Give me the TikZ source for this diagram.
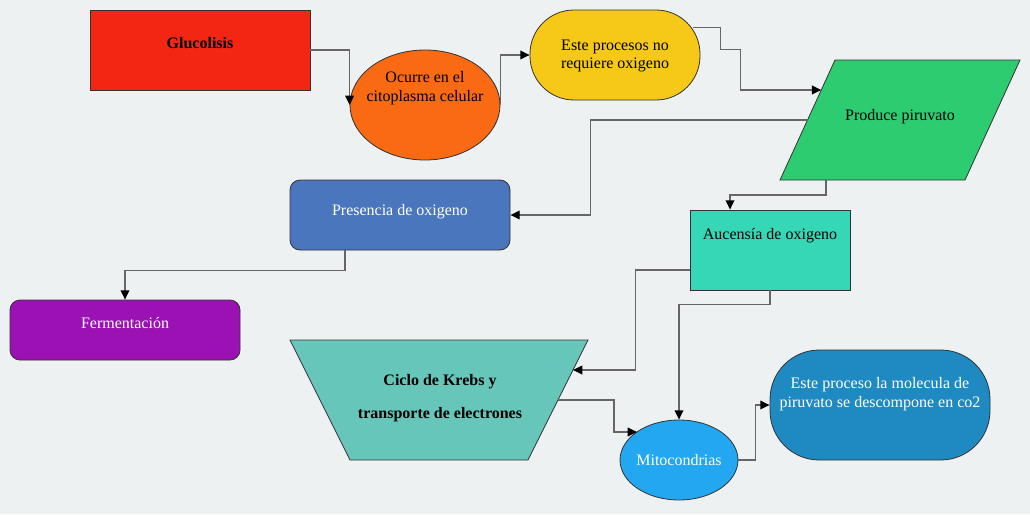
\documentclass[tikz,border=0pt]{standalone}
\usepackage{fontspec}
\setmainfont{Liberation Serif}
\newfontfamily\lserif{Liberation Serif}
\usetikzlibrary{arrows.meta,shapes.geometric,calc}
\definecolor{bg}{HTML}{EDF1F2}
\definecolor{cglu}{HTML}{F22613}
\definecolor{cocu}{HTML}{F96A12}
\definecolor{cest}{HTML}{F6C918}
\definecolor{cpir}{HTML}{2ECC71}
\definecolor{cpre}{HTML}{4A76BE}
\definecolor{cauc}{HTML}{36D7B7}
\definecolor{cfer}{HTML}{9B11B4}
\definecolor{ckre}{HTML}{66C6BA}
\definecolor{cmit}{HTML}{22A7F0}
\definecolor{cdes}{HTML}{1F8AC2}
\definecolor{cline}{HTML}{666666}
\definecolor{cbord}{HTML}{333333}
\begin{document}
\begin{tikzpicture}[x=0.75pt,y=-0.75pt,
  shp/.style={draw=cbord, line width=0.6pt, inner sep=0pt},
  shpline/.style={draw=cbord, line width=0.6pt},
  conn/.style={draw=cline, line width=1.1pt, -{Triangle[length=7pt,width=6.5pt,color=black]}},
  lbl/.style={font=\lserif\fontsize{12}{14}\selectfont, align=center, inner sep=0pt},
  wlbl/.style={lbl, text=white},
]
\fill[bg] (0,0) rectangle (1030,514);
\useasboundingbox (0,0) rectangle (1030,514);

% shapes
\node[shp, rectangle, fill=cglu, minimum width=165pt, minimum height=60pt] (glu) at (200,50) {};
\node[shp, ellipse, fill=cocu, minimum width=112.5pt, minimum height=82.5pt] (ocu) at (425,105) {};
\node[shp, rectangle, rounded corners=33pt, fill=cest, minimum width=127.5pt, minimum height=67.5pt] (est) at (615,55) {};
\draw[shpline, fill=cpir] (835,60) -- (1020,60) -- (965,180) -- (780,180) -- cycle;
\coordinate (pir) at (900,120);
\coordinate (pirA) at (821.25,90);
\coordinate (pirB) at (807.5,120);
\coordinate (pirC) at (826,180);
\node[shp, rectangle, rounded corners=7.5pt, fill=cpre, minimum width=165pt, minimum height=52.5pt] (pre) at (400,215) {};
\node[shp, rectangle, fill=cauc, minimum width=120pt, minimum height=60pt] (auc) at (770,250) {};
\node[shp, rectangle, rounded corners=7.5pt, fill=cfer, minimum width=172.5pt, minimum height=45pt] (fer) at (125,330) {};
\draw[shpline, fill=ckre] (290,340) -- (588,340) -- (528,460) -- (350,460) -- cycle;
\coordinate (kre) at (439,400);
\coordinate (kreA) at (573,370);
\coordinate (kreB) at (558,400);
\node[shp, ellipse, fill=cmit, minimum width=88.5pt, minimum height=60pt] (mit) at (679,460) {};
\coordinate (mitA) at (637,432);
\node[shp, rectangle, rounded corners=37pt, fill=cdes, minimum width=165pt, minimum height=82.5pt] (des) at (880,405) {};

% labels
\node[lbl] (tglu) at (200,43) {\bfseries Glucolisis};
\node[lbl] (tocu) at (425,88) {Ocurre en el\\citoplasma celular};
\node[lbl] (test) at (615,56) {Este procesos no\\requiere oxigeno};
\node[lbl] (tpir) at (900,117) {Produce piruvato};
\node[wlbl] (tpre) at (400,212) {Presencia de oxigeno};
\node[lbl] (tauc) at (770,236) {Aucensía de oxigeno};
\node[wlbl] (tfer) at (125,323) {Fermentación};
\node[lbl] (tkre) at (440,398) {\bfseries Ciclo de Krebs y\\[11pt]\bfseries transporte de electrones};
\node[wlbl] (tmit) at (679,460) {Mitocondrias};
\node[wlbl] (tdes) at (880,394) {Este proceso la molecula de\\piruvato se descompone en co2};

% connectors
\draw[conn] (glu.east) -| (ocu.west);
\draw[conn] (ocu.east) |- (est.west);
\draw[conn] ($(est.north east)+(-7,18)$) -- ++(27,0) -- ++(0,22) -- ++(20,0) |- (pirA);
\draw[conn] (pirB) -- ++(-217,0) |- (pre.east);
\draw[conn] (pirC) -- ++(0,15) -| ($(auc.north)+(-40,0)$);
\draw[conn] ($(pre.south)+(-55,0)$) -- ++(0,20) -| (fer.north);
\draw[conn] ($(auc.west)+(0,20)$) -- ++(-54,0) |- (kreA);
\draw[conn] (auc.south) -- ++(0,14) -| (mit.north);
\draw[conn] (kreB) -- ++(56,0) |- (mitA);
\draw[conn] (mit.east) -- ++(17,0) |- (des.west);
\end{tikzpicture}
\end{document}
